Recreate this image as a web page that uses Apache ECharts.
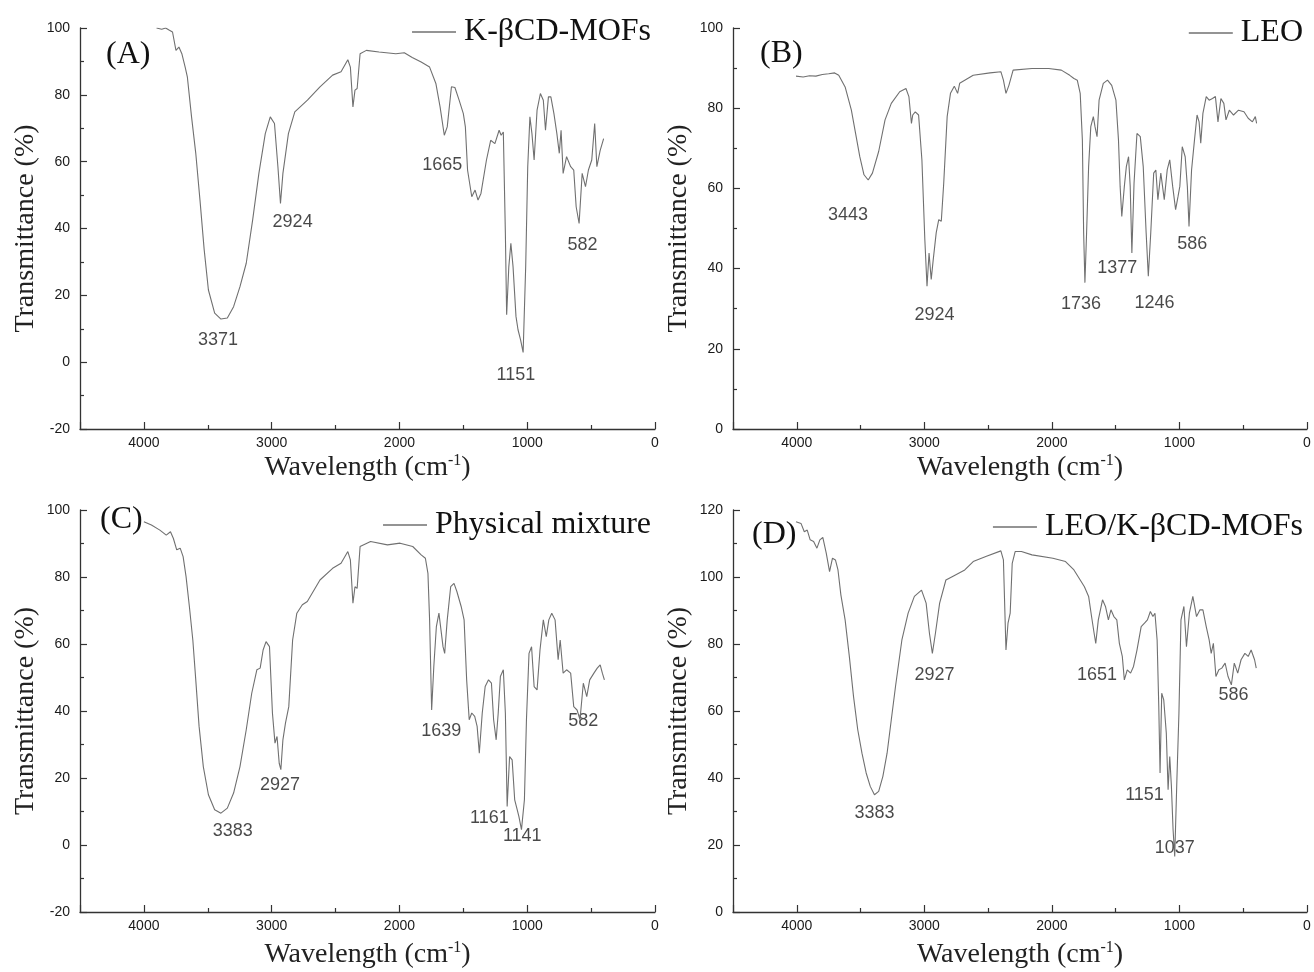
<!DOCTYPE html>
<html>
<head>
<meta charset="utf-8">
<script src="https://cdn.jsdelivr.net/npm/echarts@6/dist/echarts.min.js"></script>
<style>
html,body{margin:0;padding:0;background:#fff;}
#chart{width:1314px;height:972px;}
</style>
</head>
<body>
<div id="chart"></div>
<script>
// ---- Data (wavenumber cm-1, transmittance %) ----
const specA = [[3901,100],[3860,99.6],[3830,100],[3800,99.3],[3776,98.8],[3749,93.3],[3726,94.3],[3703,92.3],[3677,88.3],[3660,85.4],[3627,73.4],[3594,62.5],[3561,48.5],[3528,33.6],[3495,21.6],[3446,14.7],[3397,12.9],[3347,13.2],[3298,16.6],[3248,22.6],[3199,29.6],[3149,42.5],[3100,56.5],[3050,68.4],[3011,73.4],[2978,71.4],[2951,58.4],[2931,47.5],[2912,56.5],[2869,68.4],[2819,74.9],[2720,78.4],[2622,82.4],[2523,85.9],[2457,86.9],[2404,90.5],[2384,88.3],[2364,76.4],[2348,81.4],[2331,81.9],[2308,92.3],[2259,93.3],[2160,92.8],[2028,92.3],[1962,92.6],[1900,91.2],[1830,89.8],[1764,88.3],[1715,83.4],[1682,76.4],[1649,67.9],[1626,70.4],[1593,82.4],[1566,82.2],[1533,78.4],[1500,74.4],[1484,70.4],[1467,57.5],[1434,49.5],[1408,51.5],[1385,48.5],[1362,50.5],[1319,60.5],[1286,66.4],[1253,65.4],[1220,69.4],[1204,67.9],[1187,68.9],[1171,38.6],[1161,14.2],[1144,28.6],[1128,35.6],[1111,28.6],[1088,13.7],[1072,9.7],[1052,6.7],[1032,2.9],[1012,28.6],[996,58.5],[979,73.4],[963,68.4],[946,60.5],[923,75.4],[897,80.4],[874,78.4],[857,69.4],[834,79.4],[815,79.4],[791,74.4],[768,68.4],[749,62.5],[735,69.4],[719,56.5],[692,61.5],[660,58.5],[636,57.5],[617,46.5],[594,41.5],[570,56.5],[544,52.5],[521,57.5],[495,60.5],[472,71.4],[455,58.5],[429,63.4],[402,66.9]];

const specB = [[4006,88.0],[3950,87.8],[3900,88.1],[3850,88.0],[3800,88.4],[3750,88.6],[3703,88.8],[3671,88.2],[3621,85.3],[3572,79.5],[3539,73.7],[3506,67.9],[3473,63.4],[3440,62.1],[3407,63.8],[3358,69.2],[3308,77.1],[3259,81.2],[3193,84.1],[3144,84.9],[3121,82.9],[3101,76.2],[3091,78.3],[3071,79.1],[3045,78.3],[3019,67.1],[2996,47.2],[2979,35.6],[2963,43.9],[2946,37.3],[2930,42.3],[2907,48.9],[2887,52.2],[2867,51.8],[2848,61.3],[2821,77.9],[2795,83.7],[2765,85.5],[2739,83.7],[2723,86.2],[2617,88.2],[2485,88.8],[2400,89.1],[2380,87.0],[2360,83.7],[2337,85.7],[2304,89.5],[2156,89.9],[2025,89.9],[1926,89.5],[1860,88.2],[1827,87.4],[1801,87.0],[1778,83.7],[1761,72.1],[1751,48.9],[1741,36.5],[1728,48.9],[1712,65.5],[1695,75.4],[1675,77.9],[1662,75.4],[1646,72.9],[1630,82.0],[1597,86.2],[1564,87.0],[1531,85.7],[1498,82.0],[1478,72.1],[1465,60.5],[1452,53.0],[1432,60.5],[1416,65.5],[1399,67.9],[1386,60.5],[1373,43.9],[1356,61.3],[1333,73.7],[1307,72.9],[1284,65.5],[1261,48.9],[1244,38.1],[1225,48.9],[1202,63.8],[1185,64.6],[1169,57.2],[1146,63.8],[1119,57.2],[1096,64.6],[1076,67.1],[1053,60.5],[1030,54.7],[1011,58.0],[997,60.5],[978,70.4],[955,67.9],[938,60.5],[925,50.5],[905,64.6],[882,72.1],[862,78.3],[846,76.6],[833,71.3],[816,78.7],[790,82.9],[767,82.0],[741,82.4],[718,82.9],[698,76.6],[675,82.4],[652,81.2],[635,77.1],[609,79.5],[576,78.3],[537,79.5],[494,79.1],[461,77.5],[428,76.6],[405,77.9],[395,76.2]];

const specC = [[4000,96.5],[3941,95.5],[3875,94.0],[3825,92.5],[3792,93.5],[3769,91.5],[3743,88.1],[3716,88.6],[3693,86.1],[3670,80.1],[3644,71.2],[3617,61.2],[3594,49.3],[3568,35.4],[3535,23.4],[3495,15.0],[3446,10.5],[3397,9.5],[3347,11.0],[3298,15.5],[3248,23.4],[3199,34.4],[3156,45.3],[3116,52.3],[3090,52.8],[3067,58.2],[3044,60.7],[3017,59.2],[2994,39.4],[2974,30.4],[2958,32.4],[2941,24.4],[2928,22.5],[2912,31.4],[2892,36.4],[2866,41.3],[2836,61.2],[2803,69.2],[2760,71.7],[2721,72.7],[2622,79.1],[2523,82.6],[2457,84.1],[2404,87.6],[2384,85.1],[2364,72.2],[2348,77.1],[2331,76.6],[2308,89.1],[2226,90.6],[2094,89.6],[1995,90.1],[1896,89.1],[1830,86.6],[1797,85.6],[1777,81.1],[1764,67.2],[1748,40.3],[1731,53.3],[1711,65.2],[1691,69.2],[1675,64.2],[1659,59.2],[1646,57.2],[1626,67.2],[1599,77.1],[1573,78.1],[1550,75.6],[1517,71.2],[1494,67.2],[1474,49.3],[1454,37.4],[1434,39.4],[1411,38.4],[1392,35.4],[1375,27.4],[1352,39.4],[1329,47.3],[1303,49.3],[1280,48.3],[1263,37.4],[1243,31.4],[1227,39.4],[1210,50.3],[1187,52.3],[1171,39.4],[1157,11.5],[1138,26.4],[1118,25.4],[1098,13.5],[1078,10.5],[1065,8.5],[1045,4.6],[1022,13.5],[1006,37.4],[986,57.2],[966,59.2],[946,47.3],[923,46.3],[900,58.2],[874,67.2],[851,62.2],[831,67.2],[808,69.2],[782,67.2],[758,55.3],[742,61.2],[719,51.3],[692,52.3],[660,51.3],[636,41.3],[610,40.3],[587,37.4],[561,48.3],[534,44.3],[511,49.3],[478,51.3],[452,52.8],[429,53.8],[412,51.3],[396,49.3]];

const specD = [[4006,116.5],[3967,116.0],[3941,113.5],[3918,114.0],[3895,111.1],[3868,110.6],[3842,108.6],[3819,111.1],[3796,111.8],[3769,107.1],[3743,101.6],[3720,105.6],[3697,105.1],[3677,102.1],[3654,94.6],[3621,87.2],[3588,76.3],[3555,64.3],[3522,54.4],[3489,47.4],[3456,41.5],[3424,37.5],[3391,35.0],[3358,36.0],[3325,40.5],[3292,47.4],[3259,57.4],[3226,67.3],[3176,81.2],[3127,89.2],[3078,94.2],[3022,96.1],[2986,92.2],[2960,83.2],[2937,77.2],[2913,83.2],[2880,92.2],[2831,99.1],[2782,100.1],[2683,102.1],[2617,104.6],[2518,106.1],[2400,107.8],[2380,105.1],[2360,78.2],[2344,86.2],[2327,89.2],[2311,104.1],[2288,107.6],[2239,107.6],[2156,106.6],[1992,105.6],[1893,104.6],[1827,102.1],[1778,99.1],[1745,97.1],[1712,94.2],[1689,88.2],[1669,83.2],[1656,80.2],[1636,87.2],[1603,93.2],[1580,91.2],[1557,87.2],[1537,90.2],[1514,88.2],[1491,87.2],[1471,80.2],[1448,76.3],[1432,69.3],[1409,72.3],[1383,71.3],[1360,73.3],[1333,78.2],[1300,85.2],[1274,86.2],[1251,87.2],[1228,89.7],[1208,88.2],[1192,89.2],[1175,81.2],[1162,61.3],[1152,41.5],[1139,65.3],[1123,63.3],[1103,53.4],[1089,36.5],[1076,46.4],[1063,37.5],[1050,24.6],[1037,16.6],[1020,39.5],[1004,59.4],[988,87.2],[965,91.2],[945,79.2],[922,89.2],[895,94.2],[866,88.2],[839,90.2],[816,90.2],[790,85.2],[767,81.2],[751,77.2],[734,80.2],[714,70.3],[691,72.3],[668,72.8],[642,74.3],[619,70.3],[593,67.8],[570,74.3],[543,71.3],[517,75.3],[487,77.2],[461,76.3],[438,78.2],[411,75.3],[398,72.8]];

// Peak annotations: [wavenumber, transmittance, label]
const peaksA = [[3420,6.7,'3371'],[2836,42.0,'2924'],[1665,59.0,'1665'],[1088,-3.8,'1151'],[567,35.1,'582']];
const peaksB = [[3598,53.4,'3443'],[2920,28.3,'2924'],[1771,31.1,'1736'],[1488,40.2,'1377'],[1195,31.5,'1246'],[899,46.1,'586']];
const peaksC = [[3304,4.1,'3383'],[2935,18.0,'2927'],[1672,33.9,'1639'],[1296,8.0,'1161'],[1039,2.6,'1141'],[561,36.9,'582']];
const peaksD = [[3391,29.5,'3383'],[2920,70.8,'2927'],[1646,70.8,'1651'],[1274,35.0,'1151'],[1037,19.1,'1037'],[576,64.8,'586']];

const names = ['K-βCD-MOFs','LEO','Physical mixture','LEO/K-βCD-MOFs'];
const panelTags = ['(A)','(B)','(C)','(D)'];
const yRanges = [[-20,100],[0,100],[-20,100],[0,120]];
const xTicks = {min:0, max:4500, interval:1000};
const yInterval = 20;

// ---- Layout ----
const grids = [
  {left:80, top:28, width:575, height:401},
  {left:733, top:28, width:574, height:401},
  {left:80, top:510, width:575, height:402},
  {left:733, top:510, width:574, height:402}
];
const serif = "'Liberation Serif','Times New Roman',serif";
const sans = "'Liberation Sans',Arial,sans-serif";
const axisColor = '#333';
const lineColor = '#707070';

const xAxes = grids.map((g,i)=>({
  type:'value', gridIndex:i, min:xTicks.min, max:xTicks.max, interval:xTicks.interval, inverse:true,
  axisLine:{onZero:false, lineStyle:{color:axisColor, width:1.3}},
  axisTick:{inside:true, length:7, lineStyle:{color:axisColor, width:1.2}},
  minorTick:{show:true, splitNumber:2, length:4, lineStyle:{color:axisColor, width:1.2}},
  splitLine:{show:false}, minorSplitLine:{show:false},
  axisLabel:{margin:7, fontSize:14, color:'#1a1a1a', fontFamily:sans, showMaxLabel:false,
    formatter:(v)=>String(v)},
  name:'{a|Wavelength (cm}{s|-1}{a|)}', nameLocation:'middle', nameGap: i<2 ? 24 : 28,
  nameTextStyle:{rich:{
    a:{fontSize:28, fontFamily:serif, color:'#222'},
    s:{fontSize:16, fontFamily:serif, color:'#222', padding:[0,0,14,0]}
  }}
}));
const yAxes = grids.map((g,i)=>({
  type:'value', gridIndex:i, min:yRanges[i][0], max:yRanges[i][1], interval:yInterval,
  axisLine:{show:true, onZero:false, lineStyle:{color:axisColor, width:1.3}},
  axisTick:{show:true, inside:true, length:7, lineStyle:{color:axisColor, width:1.2}},
  minorTick:{show:true, splitNumber:2, length:4, lineStyle:{color:axisColor, width:1.2}},
  splitLine:{show:false}, minorSplitLine:{show:false},
  axisLabel:{margin:10, fontSize:14, color:'#1a1a1a', fontFamily:sans, formatter:(v)=>String(v)},
  name:'Transmittance (%)', nameLocation:'middle', nameGap:40,
  nameTextStyle:{fontSize:28, fontFamily:serif, color:'#222'}
}));

const specs = [specA, specB, specC, specD];
const peaks = [peaksA, peaksB, peaksC, peaksD];
const series = [];
specs.forEach((s,i)=>{
  series.push({
    name:names[i], type:'line', xAxisIndex:i, yAxisIndex:i, data:s,
    showSymbol:false, symbol:'none', smooth:false,
    lineStyle:{color:lineColor, width:1.1}, itemStyle:{color:lineColor}, silent:true
  });
  series.push({
    name:'peaks'+i, type:'scatter', xAxisIndex:i, yAxisIndex:i, symbolSize:0, silent:true,
    data:peaks[i].map(p=>({value:[p[0],p[1]], name:p[2]})),
    label:{show:true, position:'inside', formatter:'{b}', fontSize:18, fontFamily:sans, color:'#1a1a1a'}
  });
});

const legendPos = [
  {right:663, top:16},
  {right:11, top:17},
  {right:663, top:509},
  {right:11, top:511}
];
const legends = names.map((n,i)=>({
  data:[n], orient:'horizontal', right:legendPos[i].right, top:legendPos[i].top, padding:0,
  icon:'rect', itemWidth:44, itemHeight:1.5, itemGap:0,
  itemStyle:{color:lineColor},
  textStyle:{fontSize:32, fontFamily:serif, color:'#111', padding:[0,0,0,3]},
  selectedMode:false
}));

const tagPos = [{left:106, top:39},{left:760, top:38},{left:100, top:504},{left:752, top:519}];
const titles = panelTags.map((t,i)=>({
  text:t, left:tagPos[i].left, top:tagPos[i].top, padding:0,
  textStyle:{fontSize:32, fontFamily:serif, fontWeight:'normal', color:'#111'}
}));

const chart = echarts.init(document.getElementById('chart'), null, {renderer:'canvas'});
chart.setOption({
  animation:false,
  backgroundColor:'#fff',
  title:titles,
  legend:legends,
  grid:grids.map(g=>Object.assign({containLabel:false}, g)),
  xAxis:xAxes,
  yAxis:yAxes,
  series:series
});
</script>
</body>
</html>
